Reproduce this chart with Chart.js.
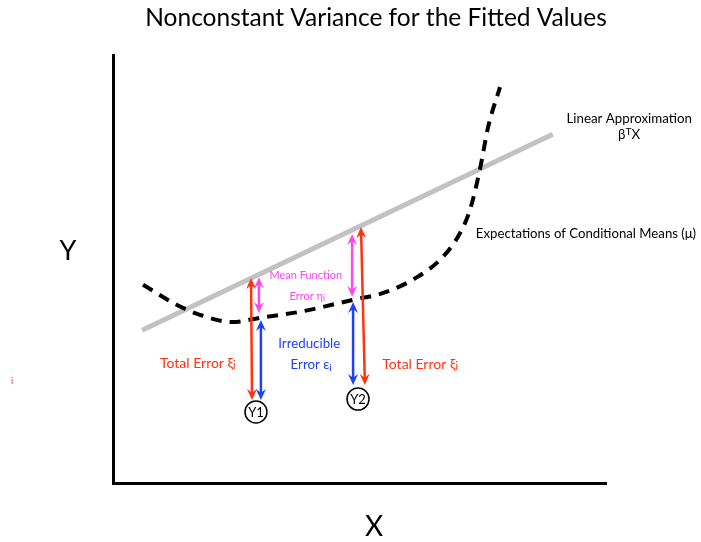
<!DOCTYPE html>
<html>
<head>
<meta charset="utf-8">
<script src="https://cdn.jsdelivr.net/npm/chart.js@4"></script>
<style>
  body { margin: 0; background: #fff; }
</style>
</head>
<body>
<canvas id="grafico" width="701" height="542"></canvas>
<script>
// curva de medias condicionales (escala 0-100)
const curvaX = [6.1, 13.0, 17.6, 24.3, 29.8, 37.9, 48.7, 54.8, 61.7, 66.9, 70.4, 72.4, 74.4, 76.1, 78.5];
const curvaY = [46.3, 41.6, 39.3, 37.6, 38.6, 40.0, 42.8, 44.4, 48.1, 52.8, 58.4, 63.8, 73.1, 83.2, 92.5];
// aproximacion lineal beta'X
const rectaX = [5.9, 89.2];
const rectaY = [35.7, 81.5];
// observaciones
const obsNombres = ['Y1', 'Y2'];
const obsX = [29.0, 49.7];
const obsY = [16.6, 19.6];
// flechas de error (inicio arriba, fin abajo)
const flechaTipo = ['total', 'media', 'irreducible', 'total', 'media', 'irreducible'];
const flechaX1 = [28.0, 29.6, 30.0, 50.3, 48.5, 48.7];
const flechaX2 = [28.2, 29.6, 30.0, 51.1, 48.5, 48.7];
const flechaY1 = [47.9, 48.1, 38.1, 59.8, 58.2, 42.3];
const flechaY2 = [19.4, 39.7, 19.4, 22.9, 43.5, 22.9];

const colores = { total: '#ff3310', media: '#ff45f0', irreducible: '#1f40ff' };
const fuente = 'Lato, "Open Sans", sans-serif';

function texto(ctx, partes, cx, cy, tam, color, alinear) {
  let ancho = 0;
  partes.forEach(p => {
    ctx.font = (p[1] ? tam * 0.78 : tam) + 'px ' + fuente;
    ancho += ctx.measureText(p[0]).width;
  });
  let x = alinear === 'left' ? cx : cx - ancho / 2;
  ctx.fillStyle = color;
  ctx.textBaseline = 'middle';
  ctx.textAlign = 'left';
  partes.forEach(p => {
    ctx.font = (p[1] ? tam * 0.78 : tam) + 'px ' + fuente;
    const dy = p[1] === 'sub' ? tam * 0.2 : (p[1] === 'sup' ? -tam * 0.22 : 0);
    ctx.fillText(p[0], x, cy + dy);
    x += ctx.measureText(p[0]).width;
  });
}

function flecha(ctx, x1, y1, x2, y2, color) {
  const ang = Math.atan2(y2 - y1, x2 - x1);
  const largo = 11, medio = 5;
  ctx.strokeStyle = color;
  ctx.fillStyle = color;
  ctx.lineWidth = 2.5;
  ctx.beginPath();
  ctx.moveTo(x1 + Math.cos(ang) * 6, y1 + Math.sin(ang) * 6);
  ctx.lineTo(x2 - Math.cos(ang) * 6, y2 - Math.sin(ang) * 6);
  ctx.stroke();
  [[x2, y2, ang], [x1, y1, ang + Math.PI]].forEach(([px, py, a]) => {
    ctx.beginPath();
    ctx.moveTo(px, py);
    ctx.lineTo(px - Math.cos(a) * largo - Math.sin(a) * medio, py - Math.sin(a) * largo + Math.cos(a) * medio);
    ctx.lineTo(px - Math.cos(a) * largo * 0.65, py - Math.sin(a) * largo * 0.65);
    ctx.lineTo(px - Math.cos(a) * largo + Math.sin(a) * medio, py - Math.sin(a) * largo - Math.cos(a) * medio);
    ctx.closePath();
    ctx.fill();
  });
}

const anotaciones = {
  id: 'anotaciones',
  afterDatasetsDraw(chart) {
    const { ctx, scales: { x, y } } = chart;
    ctx.save();
    flechaTipo.forEach((t, i) => {
      flecha(ctx, x.getPixelForValue(flechaX1[i]), y.getPixelForValue(flechaY1[i]),
        x.getPixelForValue(flechaX2[i]), y.getPixelForValue(flechaY2[i]), colores[t]);
    });
    obsNombres.forEach((n, i) => {
      texto(ctx, [[n]], x.getPixelForValue(obsX[i]), y.getPixelForValue(obsY[i]) + 1, 13, '#000');
    });
    const px = v => x.getPixelForValue(v), py = v => y.getPixelForValue(v);
    texto(ctx, [['Total Error ξ'], ['i', 'sub']], px(17.2), py(28.0), 14, colores.total);
    texto(ctx, [['Total Error ξ'], ['i', 'sub']], px(62.3), py(27.8), 14, colores.total);
    texto(ctx, [['Irreducible']], px(39.8), py(32.5), 13.3, colores.irreducible);
    texto(ctx, [['Error ε'], ['i', 'sub']], px(40.2), py(27.6), 13.3, colores.irreducible);
    texto(ctx, [['Mean Function']], px(39.1), py(48.6), 11, colores.media);
    texto(ctx, [['Error η'], ['i', 'sub']], px(39.4), py(43.7), 11, colores.media);
    texto(ctx, [['Linear Approximation']], px(104.7), py(85.0), 13.3, '#000');
    texto(ctx, [['β'], ['T', 'sup'], ['X']], px(104.7), py(81.3), 13.3, '#000');
    texto(ctx, [['Expectations of Conditional Means (μ)']], px(73.6), py(58.2), 13.2, '#000', 'left');
    ctx.restore();
  },
  afterDraw(chart) {
    const ctx = chart.ctx;
    ctx.save();
    texto(ctx, [['Nonconstant Variance for the Fitted Values']], 376, 18, 24.5, '#000');
    texto(ctx, [['Y']], 68, 251, 27, '#000');
    texto(ctx, [['X']], 374, 527, 28, '#000');
    texto(ctx, [['i']], 12, 381, 9, colores.total);
    ctx.restore();
  }
};

const ejes = {
  type: 'linear',
  min: 0,
  max: 100,
  ticks: { display: false },
  grid: { display: false, drawTicks: false },
  border: { display: true, color: '#000', width: 3 }
};

new Chart(document.getElementById('grafico'), {
  type: 'line',
  data: {
    datasets: [
      {
        data: curvaX.map((v, i) => ({ x: v, y: curvaY[i] })),
        borderColor: '#000',
        borderWidth: 4,
        borderDash: [11, 8],
        cubicInterpolationMode: 'monotone',
        pointRadius: 0,
        order: 1
      },
      {
        data: rectaX.map((v, i) => ({ x: v, y: rectaY[i] })),
        borderColor: '#c2c2c2',
        borderWidth: 5,
        pointRadius: 0,
        order: 2
      },
      {
        data: obsX.map((v, i) => ({ x: v, y: obsY[i] })),
        showLine: false,
        pointRadius: 11,
        pointBackgroundColor: '#fff',
        pointBorderColor: '#000',
        pointBorderWidth: 1.5,
        order: 0
      }
    ]
  },
  options: {
    responsive: false,
    animation: false,
    layout: { padding: { left: 113, right: 95, top: 55, bottom: 59 } },
    scales: { x: ejes, y: ejes },
    plugins: {
      legend: { display: false },
      tooltip: { enabled: false },
      title: { display: false }
    }
  },
  plugins: [anotaciones]
});
</script>
</body>
</html>
